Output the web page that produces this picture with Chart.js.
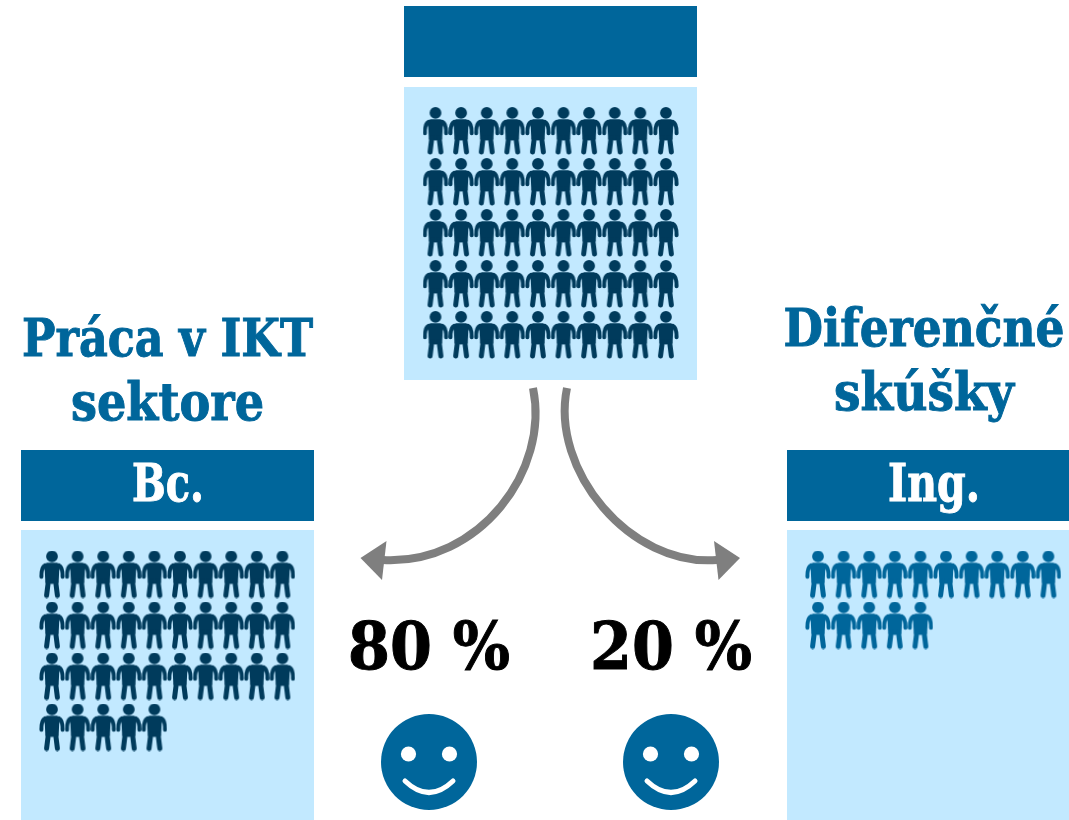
<!DOCTYPE html>
<html>
<head>
<meta charset="utf-8">
<title>Bc. / Ing.</title>
<script src="https://cdn.jsdelivr.net/npm/chart.js@4"></script>
<style>
  html, body { margin: 0; padding: 0; background: #fff; }
  canvas { display: block; }
</style>
</head>
<body>
<canvas id="chart" width="1069" height="820"></canvas>
<script>
// people per row in each group (one icon = one student)
const allRows = [10, 10, 10, 10, 10];
const bcRows = [10, 10, 10, 5];
const ingRows = [10, 5];

const headingBc = ['Práca v IKT', 'sektore'];
const headingIng = ['Diferenčné', 'skúšky'];
const barLabels = ['', 'Bc.', 'Ing.'];
const shareLabels = ['80 %', '20 %'];

const BLUE = '#00669b';
const LIGHT = '#c2e9ff';
const DARK = '#003b5c';
const GRAY = '#7f7f7f';
const SERIF = '"DejaVu Serif Condensed", "Liberation Serif", serif';

function personIcon(color) {
  const c = document.createElement('canvas');
  c.width = 26;
  c.height = 48;
  const g = c.getContext('2d');
  g.translate(13, 0.5);
  g.fillStyle = color;
  g.strokeStyle = color;
  g.lineCap = 'round';
  g.lineJoin = 'round';
  g.beginPath();
  g.arc(0, 5.4, 5.9, 0, Math.PI * 2);
  g.fill();
  g.beginPath();
  g.moveTo(-5, 11.8);
  g.lineTo(5, 11.8);
  g.lineTo(9, 14);
  g.lineTo(7.2, 20);
  g.lineTo(6.6, 32);
  g.lineTo(0, 33);
  g.lineTo(-6.6, 32);
  g.lineTo(-7.2, 20);
  g.lineTo(-9, 14);
  g.closePath();
  g.fill();
  [-1, 1].forEach(s => {
    g.lineWidth = 4;
    g.beginPath();
    g.moveTo(s * 7, 14.4);
    g.quadraticCurveTo(s * 10.8, 16, s * 10.6, 25.8);
    g.stroke();
    g.lineWidth = 5;
    g.beginPath();
    g.moveTo(s * 3.6, 30);
    g.lineTo(s * 5.4, 44.4);
    g.stroke();
  });
  return c;
}

function smileIcon() {
  const c = document.createElement('canvas');
  c.width = 98;
  c.height = 98;
  const g = c.getContext('2d');
  g.translate(49, 49);
  g.fillStyle = BLUE;
  g.beginPath();
  g.arc(0, 0, 48, 0, Math.PI * 2);
  g.fill();
  g.fillStyle = '#fff';
  [-20.5, 20.5].forEach(x => {
    g.beginPath();
    g.arc(x, -8, 7.6, 0, Math.PI * 2);
    g.fill();
  });
  g.strokeStyle = '#fff';
  g.lineWidth = 5;
  g.lineCap = 'round';
  g.beginPath();
  g.moveTo(-24, 19);
  g.quadraticCurveTo(0, 42, 24, 19);
  g.stroke();
  return c;
}

// turn row counts into points, first icon at (left, top), stepping per column/row
function gridPoints(rows, left, top) {
  const pts = [];
  rows.forEach((count, r) => {
    for (let i = 0; i < count; i++) pts.push({ x: left + i * 25.6, y: top + r * 51 });
  });
  return pts;
}

// canvas text squeezed to the width it has in the original, stroked a bit to get the weight
function fitText(ctx, text, cx, baseline, width) {
  const scale = width / ctx.measureText(text).width;
  ctx.save();
  ctx.translate(cx, baseline);
  ctx.scale(scale, 1);
  ctx.fillText(text, 0, 0);
  ctx.strokeStyle = ctx.fillStyle;
  ctx.lineWidth = 0.9;
  ctx.strokeText(text, 0, 0);
  ctx.restore();
}

const panels = [
  { x: 404, w: 293, barY: 6, panelY: 87, panelH: 293, label: barLabels[0], labelX: 0, labelW: 0 },
  { x: 21, w: 293, barY: 450, panelY: 530, panelH: 290, label: barLabels[1], labelX: 168, labelW: 72 },
  { x: 787, w: 282, barY: 450, panelY: 530, panelH: 290, label: barLabels[2], labelX: 934, labelW: 92 }
];

const panelsPlugin = {
  id: 'panels',
  beforeDatasetsDraw(chart) {
    const { ctx, scales: { x, y } } = chart;
    ctx.save();
    panels.forEach(p => {
      const left = x.getPixelForValue(p.x);
      const w = x.getPixelForValue(p.x + p.w) - left;
      ctx.fillStyle = BLUE;
      ctx.fillRect(left, y.getPixelForValue(p.barY), w, 71);
      ctx.fillStyle = LIGHT;
      ctx.fillRect(left, y.getPixelForValue(p.panelY), w, p.panelH);
      if (p.label) {
        ctx.fillStyle = '#fff';
        ctx.font = 'bold 52px ' + SERIF;
        ctx.textAlign = 'center';
        fitText(ctx, p.label, x.getPixelForValue(p.labelX), y.getPixelForValue(501), p.labelW);
      }
    });
    ctx.restore();
  }
};

const arrowsPlugin = {
  id: 'arrows',
  afterDatasetsDraw(chart) {
    const { ctx } = chart;
    const draw = (pts, head) => {
      ctx.strokeStyle = GRAY;
      ctx.fillStyle = GRAY;
      ctx.lineWidth = 8;
      ctx.beginPath();
      ctx.moveTo(pts[0], pts[1]);
      ctx.bezierCurveTo(pts[2], pts[3], pts[4], pts[5], pts[6], pts[7]);
      ctx.stroke();
      ctx.beginPath();
      ctx.moveTo(head[0], head[1]);
      ctx.lineTo(head[2], head[3]);
      ctx.lineTo(head[4], head[5]);
      ctx.closePath();
      ctx.fill();
    };
    ctx.save();
    draw([533, 388, 550, 470, 480, 565, 383, 560], [360.5, 558, 386.5, 541, 382, 580]);
    draw([567, 388, 550, 470, 630, 567, 717, 560], [740, 558, 714, 541, 718.5, 580]);
    ctx.restore();
  }
};

const textPlugin = {
  id: 'texts',
  afterDraw(chart) {
    const { ctx } = chart;
    ctx.save();
    ctx.textAlign = 'center';
    ctx.fillStyle = BLUE;
    ctx.font = 'bold 52px ' + SERIF;
    fitText(ctx, headingBc[0], 167.5, 356, 291);
    fitText(ctx, headingBc[1], 167.5, 420, 193);
    fitText(ctx, headingIng[0], 924, 346, 281);
    fitText(ctx, headingIng[1], 924, 410, 180);
    ctx.fillStyle = '#000';
    ctx.font = 'bold 65px ' + SERIF;
    fitText(ctx, shareLabels[0], 429, 669, 162);
    fitText(ctx, shareLabels[1], 671, 669, 162);
    ctx.restore();
  }
};

new Chart(document.getElementById('chart'), {
  type: 'scatter',
  data: {
    datasets: [
      { label: 'Spolu', data: gridPoints(allRows, 435.5, 131), pointStyle: personIcon(DARK) },
      { label: 'Bc.', data: gridPoints(bcRows, 52, 574.5), pointStyle: personIcon(DARK) },
      { label: 'Ing.', data: gridPoints(ingRows, 818, 574.5), pointStyle: personIcon(BLUE) },
      { label: 'Spokojnosť', data: [{ x: 429, y: 762 }, { x: 671, y: 762 }], pointStyle: smileIcon() }
    ]
  },
  options: {
    responsive: false,
    animation: false,
    layout: { padding: 0, autoPadding: false },
    plugins: { legend: { display: false }, tooltip: { enabled: false } },
    scales: {
      x: { type: 'linear', min: 0, max: 1069, display: false },
      y: { type: 'linear', min: 0, max: 820, reverse: true, display: false }
    }
  },
  plugins: [panelsPlugin, arrowsPlugin, textPlugin]
});
</script>
</body>
</html>
